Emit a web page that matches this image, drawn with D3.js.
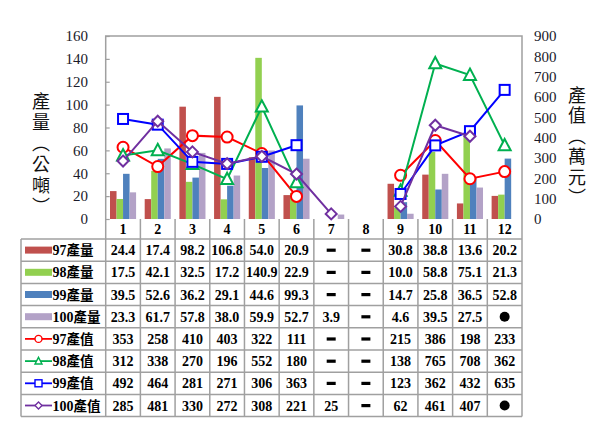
<!DOCTYPE html>
<html><head><meta charset="utf-8">
<script src="https://cdn.jsdelivr.net/npm/d3@7"></script>
<style>body{margin:0;background:#fff}svg{display:block}</style>
</head><body><svg id="c" width="600" height="444"></svg>
<script>
const months = ["1","2","3","4","5","6","7","8","9","10","11","12"];
const prod97  = [24.4,17.4,98.2,106.8,54.0,20.9,null,null,30.8,38.8,13.6,20.2];
const prod98  = [17.5,42.1,32.5,17.2,140.9,22.9,null,null,10.0,58.8,75.1,21.3];
const prod99  = [39.5,52.6,36.2,29.1,44.6,99.3,null,null,14.7,25.8,36.5,52.8];
const prod100 = [23.3,61.7,57.8,38.0,59.9,52.7,3.9,null,4.6,39.5,27.5,null];
const val97  = [353,258,410,403,322,111,null,null,215,386,198,233];
const val98  = [312,338,270,196,552,180,null,null,138,765,708,362];
const val99  = [492,464,281,271,306,363,null,null,123,362,432,635];
const val100 = [285,481,330,272,308,221,25,null,62,461,407,null];
const pendingCells = [["100產量","12"],["100產值","12"]];
const leftTicks = [0,20,40,60,80,100,120,140,160];
const rightTicks = [0,100,200,300,400,500,600,700,800,900];
const leftTitle = "產量（公噸）";
const rightTitle = "產值（萬元）";

const barSeries = [
  {name:"97產量", values:prod97, color:"#C0504D"},
  {name:"98產量", values:prod98, color:"#92D050"},
  {name:"99產量", values:prod99, color:"#4F81BD"},
  {name:"100產量", values:prod100, color:"#B3A2C7"}
];
const lineSeries = [
  {name:"97產值", values:val97, color:"#FF0000", sym:"circle"},
  {name:"98產值", values:val98, color:"#00B050", sym:"triangle"},
  {name:"99產值", values:val99, color:"#0000FF", sym:"square"},
  {name:"100產值", values:val100, color:"#7030A0", sym:"diamond"}
];

const svg = d3.select("#c");
const L = 105.7, R = 522, T = 36, B = 219;
const tableLeft = 21, rowH = 22.2, headerB = 239;
const serif = "'Liberation Serif','Times New Roman',serif";
const cjk = "'Noto Sans CJK TC','Noto Sans CJK SC',sans-serif";
const gridColor = "#a0a0a0";

const x = d3.scaleBand().domain(months).range([L, R]).paddingInner(0).paddingOuter(0);
const xs = d3.scaleBand().domain(barSeries.map(s=>s.name)).range([4.3, x.bandwidth()-4.3]).padding(0);
const yL = d3.scaleLinear().domain([0,160]).range([B, T]);
const yR = d3.scaleLinear().domain([0,900]).range([B, T]);

// bars
barSeries.forEach(s => {
  svg.append("g").selectAll("rect")
    .data(months.map((m,i)=>({m, v:s.values[i]})).filter(d=>d.v!=null))
    .join("rect")
    .attr("x", d => x(d.m) + xs(s.name))
    .attr("width", xs.bandwidth())
    .attr("y", d => yL(d.v))
    .attr("height", d => B - yL(d.v))
    .attr("fill", s.color);
});

// frame
svg.append("path").attr("d", `M${L},${B}V${T}H${R}V${B}`).attr("fill","none").attr("stroke",gridColor).attr("stroke-width",1.5);

// left axis
const la = svg.append("g").attr("transform", `translate(${L},0)`)
  .call(d3.axisRight(yL).tickValues(leftTicks).tickSize(4).tickFormat(""));
la.select(".domain").remove();
la.selectAll("line").attr("stroke", gridColor).attr("stroke-width",1.2);
svg.append("g").selectAll("text").data(leftTicks).join("text")
  .attr("x", 88).attr("y", d => yL(d)).attr("dy","0.35em")
  .attr("text-anchor","end").attr("font-family",serif).attr("font-size",15).attr("fill","#1a1a2a")
  .text(d => d);
// right axis
svg.append("g").selectAll("text").data(rightTicks).join("text")
  .attr("x", 534).attr("y", d => yR(d)).attr("dy","0.35em")
  .attr("text-anchor","start").attr("font-family",serif).attr("font-size",15).attr("fill","#1a1a2a")
  .text(d => d);

// titles (vertical writing)
svg.append("text").attr("x",41).attr("y",92).style("writing-mode","vertical-rl")
  .attr("font-family",cjk).attr("font-size",18).attr("letter-spacing",3).attr("fill","#111").text(leftTitle);
svg.append("text").attr("x",577).attr("y",86).style("writing-mode","vertical-rl")
  .attr("font-family",cjk).attr("font-size",18).attr("letter-spacing",2.5).attr("fill","#111").text(rightTitle);

// symbols
function drawSym(g, sym, cx, cy, size, color, sw){
  let s;
  if (sym==="circle") s = g.append("circle").attr("cx",cx).attr("cy",cy).attr("r",size/2);
  else if (sym==="square") s = g.append("rect").attr("x",cx-size/2).attr("y",cy-size/2).attr("width",size).attr("height",size);
  else if (sym==="triangle") { const h=size*0.9; s = g.append("path").attr("d",`M${cx},${cy-h*0.6}L${cx+size/2},${cy+h*0.45}L${cx-size/2},${cy+h*0.45}Z`); }
  else if (sym==="diamond") { const r=size/2; s = g.append("path").attr("d",`M${cx},${cy-r}L${cx+r},${cy}L${cx},${cy+r}L${cx-r},${cy}Z`); }
  s.attr("fill","#fff").attr("stroke",color).attr("stroke-width",sw);
}

// lines
lineSeries.forEach(s => {
  const pts = months.map((m,i)=>({m, v:s.values[i]}));
  const line = d3.line().defined(d=>d.v!=null).x(d=>x(d.m)+x.bandwidth()/2).y(d=>yR(d.v));
  const g = svg.append("g");
  g.append("path").attr("d", line(pts)).attr("fill","none").attr("stroke",s.color).attr("stroke-width",2);
  pts.filter(d=>d.v!=null).forEach(d => {
    const sz = s.sym==="circle"?11: s.sym==="square"?10: s.sym==="triangle"?12:11;
    drawSym(g, s.sym, x(d.m)+x.bandwidth()/2, yR(d.v), sz, s.color, 2);
  });
});

// table
const tg = svg.append("g");
const rows = [...barSeries.map(s=>({...s, kind:"bar"})), ...lineSeries.map(s=>({...s, kind:"line"}))];
const tableBottom = headerB + rowH*rows.length;
tg.selectAll("text.h").data(months).join("text").attr("class","h")
  .attr("x", d=>x(d)+x.bandwidth()/2).attr("y", (B+headerB)/2).attr("dy","0.36em")
  .attr("text-anchor","middle").attr("font-family",serif).attr("font-weight","bold").attr("font-size",14).text(d=>d);
const gl = tg.append("g").attr("stroke",gridColor).attr("stroke-width",1.5);
months.concat(["end"]).forEach((m,i) => {
  const xx = m==="end" ? R : x(m);
  gl.append("line").attr("x1",xx).attr("x2",xx).attr("y1",B).attr("y2",tableBottom);
});
gl.append("line").attr("x1",tableLeft).attr("x2",tableLeft).attr("y1",headerB).attr("y2",tableBottom);
for (let r=0;r<=rows.length;r++){
  const yy = headerB + r*rowH;
  gl.append("line").attr("x1",tableLeft).attr("x2",R).attr("y1",yy).attr("y2",yy);
}
const fmt1 = d3.format(".1f"), fmt0 = d3.format("d");
rows.forEach((s,r) => {
  const cy = headerB + r*rowH + rowH/2;
  if (s.kind==="bar") {
    tg.append("rect").attr("x",25).attr("y",cy-3.5).attr("width",27).attr("height",7).attr("fill",s.color);
  } else {
    tg.append("line").attr("x1",25).attr("x2",52).attr("y1",cy).attr("y2",cy).attr("stroke",s.color).attr("stroke-width",1.8);
    drawSym(tg, s.sym, 38.5, cy, 7, s.color, 1.4);
  }
  const m = s.name.match(/^(\d+)(.*)$/);
  const t = tg.append("text").attr("x",52.5).attr("y",cy).attr("dy","0.36em").attr("font-size",14).attr("font-weight","bold");
  t.append("tspan").attr("font-family",serif).text(m[1]);
  t.append("tspan").attr("font-family",cjk).attr("font-size",13.5).text(m[2]);
  months.forEach((mo,i) => {
    const v = s.values[i];
    const cx = x(mo)+x.bandwidth()/2;
    const pending = pendingCells.some(p=>p[0]===s.name && p[1]===mo);
    if (v!=null) {
      tg.append("text").attr("x",cx).attr("y",cy).attr("dy","0.36em").attr("text-anchor","middle")
        .attr("font-family",serif).attr("font-weight","bold").attr("font-size",14)
        .text(s.kind==="bar" ? fmt1(v) : fmt0(v));
    } else if (pending) {
      tg.append("circle").attr("cx",cx).attr("cy",cy).attr("r",5).attr("fill","#000");
    } else {
      tg.append("rect").attr("x",cx-4.5).attr("y",cy-1.5).attr("width",9).attr("height",3.2).attr("fill","#000");
    }
  });
});
</script></body></html>
